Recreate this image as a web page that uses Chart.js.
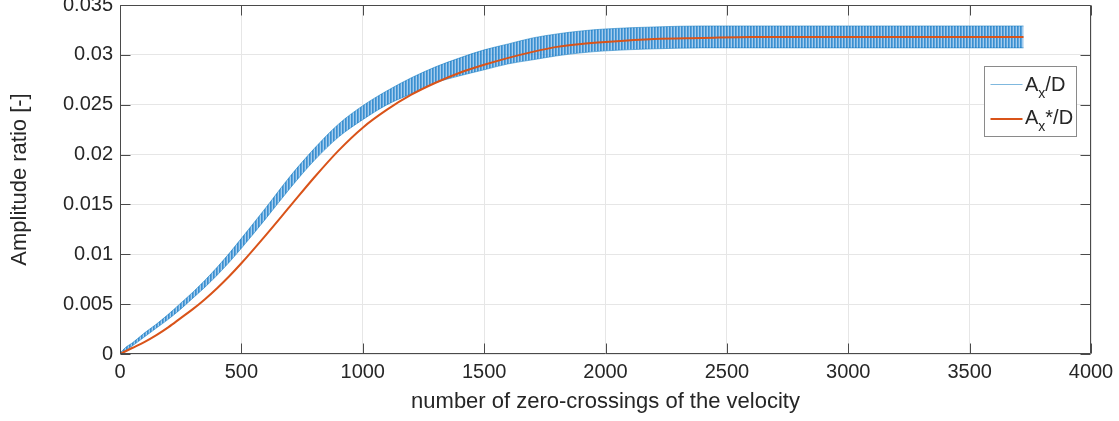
<!DOCTYPE html>
<html>
<head>
<meta charset="utf-8">
<script src="https://cdn.jsdelivr.net/npm/chart.js@4.4.1/dist/chart.umd.min.js"></script>
<style>
  html, body { margin: 0; padding: 0; background: #ffffff; }
  #wrap { width: 1119px; height: 421px; position: relative; }
</style>
</head>
<body>
<div id="wrap"><canvas id="chart"></canvas></div>
<script>
// number of zero-crossings of the velocity (x positions of the samples)
const crossings = [0, 25, 50, 100, 150, 200, 250, 300, 350, 400, 450, 500,
  600, 700, 800, 900, 1000, 1100, 1200, 1300, 1400, 1500, 1600, 1700, 1800, 1900, 2000,
  2200, 2400, 2600, 2800, 3000, 3200, 3400, 3600, 3722];

// A_x*/D : smoothed amplitude ratio
const ampStar = [0, 0.0003, 0.0006, 0.0012, 0.0019, 0.0027, 0.0036, 0.0045, 0.0055, 0.0066, 0.0078, 0.0091,
  0.0119, 0.0148, 0.0177, 0.0204, 0.0227, 0.0245, 0.0260, 0.0272, 0.0282, 0.0290, 0.0297, 0.0303, 0.0308, 0.0311, 0.0313,
  0.0316, 0.0317, 0.0318, 0.0318, 0.0318, 0.0318, 0.0318, 0.0318, 0.0318];

// A_x/D : per-crossing amplitude, upper and lower reach of its oscillation
const ampUpper = [0.0001, 0.0007, 0.0011, 0.0021, 0.0030, 0.0040, 0.0051, 0.0062, 0.0074, 0.0087, 0.0101, 0.0116,
  0.01465, 0.0178, 0.0206, 0.02305, 0.0249, 0.0264, 0.0277, 0.0288, 0.0297, 0.0305, 0.0311, 0.0317, 0.0321, 0.0324, 0.0326,
  0.0328, 0.0329, 0.0329, 0.0329, 0.0329, 0.0329, 0.0329, 0.0329, 0.0329];
const ampLower = [0, 0.0004, 0.0008, 0.0017, 0.0026, 0.0035, 0.0045, 0.0056, 0.0067, 0.0079, 0.0092, 0.0106,
  0.01355, 0.0166, 0.0194, 0.02175, 0.0235, 0.0250, 0.0261, 0.0272, 0.0279, 0.0285, 0.0291, 0.0295, 0.0299, 0.0302, 0.0304,
  0.0306, 0.0307, 0.0307, 0.0307, 0.0307, 0.0307, 0.0307, 0.0307, 0.0307];

// axis ticks
const xTicks = [0, 500, 1000, 1500, 2000, 2500, 3000, 3500, 4000];
const xTickLabels = ['0', '500', '1000', '1500', '2000', '2500', '3000', '3500', '4000'];
const yTicks = [0, 0.005, 0.01, 0.015, 0.02, 0.025, 0.03, 0.035];
const yTickLabels = ['0', '0.005', '0.01', '0.015', '0.02', '0.025', '0.03', '0.035'];

const FONT = "'Liberation Sans', Arial, Helvetica, sans-serif";
const INK = '#262626';
const ORANGE = '#D95319';
const BLUE_EDGE = 'rgba(0,114,189,0.5)';

const pts = (ys) => crossings.map((x, i) => ({ x, y: ys[i] }));

// fine vertical striping for the oscillating band
function stripePattern() {
  const c = document.createElement('canvas');
  c.width = 3; c.height = 4;
  const g = c.getContext('2d');
  g.fillStyle = 'rgba(16,118,196,0.82)';
  g.fillRect(0, 0, 1, 4);
  g.fillStyle = 'rgba(48,138,210,0.78)';
  g.fillRect(1, 0, 1, 4);
  g.fillStyle = 'rgba(110,172,226,0.62)';
  g.fillRect(2, 0, 1, 4);
  return g.createPattern(c, 'repeat');
}

// axes box, inward tick marks and the legend
const framePlugin = {
  id: 'frame',
  afterDraw(chart) {
    const { ctx, chartArea: a, scales: { x, y } } = chart;
    ctx.save();
    const L = Math.round(a.left) + 0.5, R = Math.round(a.right) - 0.5;
    const T = Math.round(a.top) + 0.5, B = Math.round(a.bottom) - 0.5;
    ctx.strokeStyle = '#4a4a4a';
    ctx.lineWidth = 1;
    ctx.beginPath();
    ctx.rect(L, T, R - L, B - T);
    const tl = 10;
    xTicks.forEach(v => {
      const p = Math.round(x.getPixelForValue(v)) + 0.5;
      ctx.moveTo(p, B); ctx.lineTo(p, B - tl);
      ctx.moveTo(p, T); ctx.lineTo(p, T + tl);
    });
    yTicks.forEach(v => {
      const p = Math.round(y.getPixelForValue(v)) + 0.5;
      ctx.moveTo(L, p); ctx.lineTo(L + tl, p);
      ctx.moveTo(R, p); ctx.lineTo(R - tl, p);
    });
    ctx.stroke();

    // legend box
    const bx = Math.round(a.right) - 106.5, by = Math.round(a.top) + 61.5, bw = 92, bh = 70;
    ctx.fillStyle = '#ffffff';
    ctx.fillRect(bx, by, bw, bh);
    ctx.strokeStyle = '#8a8a8a';
    ctx.strokeRect(bx, by, bw, bh);

    const rows = [
      { color: 'rgba(0,114,189,0.5)', width: 1, tail: '/D', ly: by + 18, base: by + 24.5 },
      { color: ORANGE, width: 2, tail: '*/D', ly: by + 52.5, base: by + 57 }
    ];
    rows.forEach(r => {
      ctx.strokeStyle = r.color;
      ctx.lineWidth = r.width;
      ctx.beginPath();
      ctx.moveTo(bx + 6, r.ly); ctx.lineTo(bx + 38, r.ly);
      ctx.stroke();
      ctx.fillStyle = INK;
      ctx.textBaseline = 'alphabetic';
      ctx.textAlign = 'left';
      let tx = bx + 40.5;
      ctx.font = '20px ' + FONT;
      ctx.fillText('A', tx, r.base);
      tx += ctx.measureText('A').width;
      ctx.font = '14px ' + FONT;
      ctx.fillText('x', tx, r.base + 7);
      tx += ctx.measureText('x').width;
      ctx.font = '20px ' + FONT;
      ctx.fillText(r.tail, tx, r.base);
    });
    ctx.restore();
  }
};

new Chart(document.getElementById('chart'), {
  type: 'line',
  data: {
    datasets: [
      {
        label: 'A_x*/D',
        data: pts(ampStar),
        borderColor: ORANGE,
        borderWidth: 2,
        pointRadius: 0,
        fill: false,
        cubicInterpolationMode: 'monotone',
        order: 0
      },
      {
        label: 'A_x/D upper',
        data: pts(ampUpper),
        borderColor: BLUE_EDGE,
        borderWidth: 1,
        pointRadius: 0,
        fill: false,
        cubicInterpolationMode: 'monotone',
        order: 1
      },
      {
        label: 'A_x/D lower',
        data: pts(ampLower),
        borderColor: BLUE_EDGE,
        borderWidth: 1,
        pointRadius: 0,
        backgroundColor: stripePattern(),
        fill: 1,
        cubicInterpolationMode: 'monotone',
        order: 2
      }
    ]
  },
  options: {
    responsive: true,
    maintainAspectRatio: false,
    animation: false,
    devicePixelRatio: 1,
    layout: { padding: { left: 0, right: 28, top: 5, bottom: 0 } },
    plugins: { legend: { display: false }, tooltip: { enabled: false } },
    scales: {
      x: {
        type: 'linear',
        min: 0, max: 4000,
        afterBuildTicks: s => { s.ticks = xTicks.map(v => ({ value: v })); },
        afterFit: s => { s.height = 67; s.paddingLeft = 0; s.paddingRight = 0; },
        ticks: {
          color: INK,
          font: { family: FONT, size: 20 },
          padding: 6,
          maxRotation: 0,
          callback: (v) => xTickLabels[xTicks.indexOf(v)]
        },
        grid: { color: '#e6e6e6', drawTicks: false, lineWidth: 1 },
        border: { display: false },
        title: {
          display: true,
          text: 'number of zero-crossings of the velocity',
          color: INK,
          font: { family: FONT, size: 22 },
          padding: { top: 0, bottom: 6 }
        }
      },
      y: {
        type: 'linear',
        min: 0, max: 0.035,
        afterBuildTicks: s => { s.ticks = yTicks.map(v => ({ value: v })); },
        afterFit: s => { s.width = 120; s.paddingTop = 0; s.paddingBottom = 0; },
        ticks: {
          color: INK,
          font: { family: FONT, size: 20 },
          padding: 7,
          callback: (v) => yTickLabels[yTicks.indexOf(v)]
        },
        grid: { color: '#e6e6e6', drawTicks: false, lineWidth: 1 },
        border: { display: false },
        title: {
          display: true,
          text: 'Amplitude ratio [-]',
          color: INK,
          font: { family: FONT, size: 22 },
          padding: { top: 7, bottom: 0 }
        }
      }
    }
  },
  plugins: [framePlugin]
});
</script>
</body>
</html>
